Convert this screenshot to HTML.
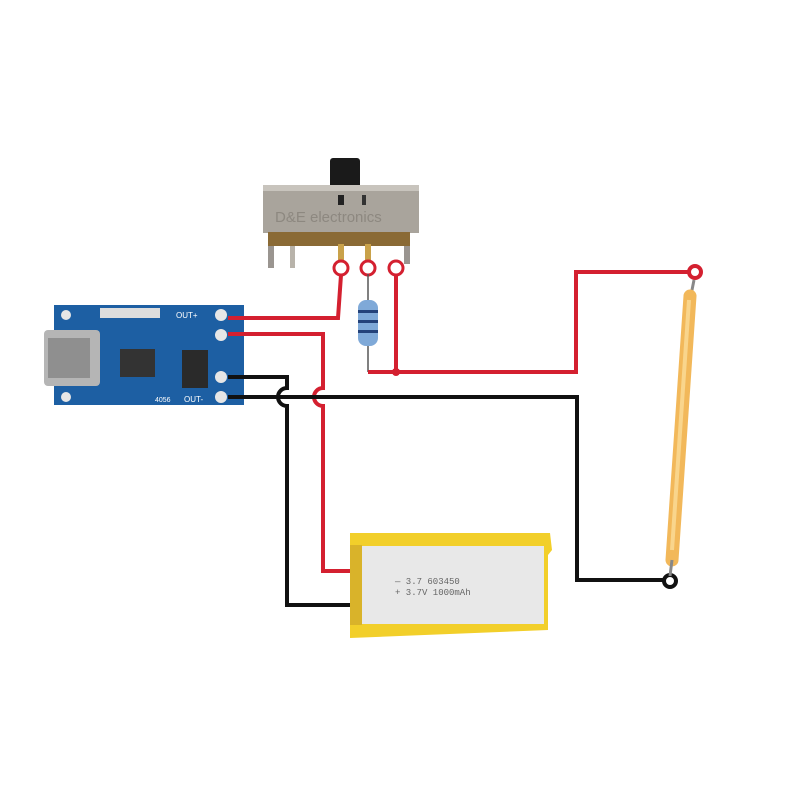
<!DOCTYPE html>
<html><head><meta charset="utf-8"><style>html,body{margin:0;padding:0;background:#fff}svg{display:block}</style></head>
<body>
<svg width="800" height="800" viewBox="0 0 800 800" xmlns="http://www.w3.org/2000/svg">
<rect width="800" height="800" fill="#fff"/>
<!-- switch -->
<rect x="330" y="158" width="30" height="30" rx="3" fill="#1a1a1a"/>
<rect x="263" y="185" width="156" height="48" fill="#a9a49c"/>
<rect x="263" y="185" width="156" height="6" fill="#c8c4bd"/>
<rect x="338" y="195" width="6" height="10" fill="#222"/>
<rect x="362" y="195" width="4" height="10" fill="#333"/>
<text x="275" y="222" font-family="Liberation Sans, sans-serif" font-size="15" fill="#8d8880">D&amp;E electronics</text>
<rect x="268" y="232" width="142" height="14" fill="#8a6a35"/>
<rect x="268" y="246" width="6" height="22" fill="#9a9590"/>
<rect x="290" y="246" width="5" height="22" fill="#b8b3aa"/>
<rect x="404" y="246" width="6" height="18" fill="#9a9590"/>
<rect x="338" y="244" width="6" height="18" fill="#c9a24a"/>
<rect x="365" y="244" width="6" height="18" fill="#c9a24a"/>
<g fill="none" stroke="#d42030" stroke-width="3">
<circle cx="341" cy="268" r="7"/><circle cx="368" cy="268" r="7"/><circle cx="396" cy="268" r="7"/>
</g>
<!-- board -->
<rect x="54" y="305" width="190" height="100" fill="#1d5fa3"/>
<rect x="44" y="330" width="56" height="56" rx="4" fill="#b5b5b5"/>
<rect x="48" y="338" width="42" height="40" fill="#8f8f8f"/>
<rect x="120" y="349" width="35" height="28" fill="#333"/>
<rect x="182" y="350" width="26" height="38" fill="#2a2a2a"/>
<rect x="100" y="308" width="60" height="10" fill="#ddd"/>
<g fill="#e6e6e6"><circle cx="221" cy="315" r="6"/><circle cx="221" cy="335" r="6"/><circle cx="221" cy="377" r="6"/><circle cx="221" cy="397" r="6"/><circle cx="66" cy="315" r="5"/><circle cx="66" cy="397" r="5"/></g>
<text x="176" y="318" font-family="Liberation Sans,sans-serif" font-size="8" fill="#fff">OUT+</text>
<text x="184" y="402" font-family="Liberation Sans,sans-serif" font-size="8" fill="#fff">OUT-</text>
<text x="155" y="402" font-family="Liberation Sans,sans-serif" font-size="7" fill="#fff">4056</text>
<!-- resistor -->
<line x1="368" y1="274" x2="368" y2="372" stroke="#555" stroke-width="1.5"/>
<rect x="358" y="300" width="20" height="46" rx="8" fill="#7fa9d8"/>
<rect x="358" y="310" width="20" height="3" fill="#24427a"/>
<rect x="358" y="320" width="20" height="3" fill="#24427a"/>
<rect x="358" y="330" width="20" height="3" fill="#24427a"/>
<!-- wires -->
<g fill="none" stroke-width="4" stroke-linejoin="miter">
<polyline points="228,318 338,318 341,275" stroke="#d42030"/>
<path d="M228,334 L323,334 L323,388 A9,9 0 0 0 323,406 L323,571 L356,571" stroke="#d42030"/>
<polyline points="368,372 576,372 576,272 688,272" stroke="#d42030"/>
<line x1="396" y1="275" x2="396" y2="372" stroke="#d42030"/>
<path d="M228,377 L287,377 L287,388 A9,9 0 0 0 287,406 L287,605 L356,605" stroke="#111"/>
<polyline points="228,397 577,397 577,580 664,580" stroke="#111"/>
</g>
<circle cx="396" cy="372" r="4" fill="#d42030"/>
<circle cx="695" cy="272" r="6" fill="#fff" stroke="#d42030" stroke-width="4"/>
<circle cx="670" cy="581" r="6" fill="#fff" stroke="#111" stroke-width="4"/>
<!-- probe -->
<line x1="694" y1="280" x2="691" y2="295" stroke="#888" stroke-width="3"/>
<line x1="690" y1="296" x2="672" y2="560" stroke="#f2b85a" stroke-width="13" stroke-linecap="round"/>
<line x1="689" y1="300" x2="672" y2="550" stroke="#f9d58c" stroke-width="4"/>
<line x1="672" y1="560" x2="670" y2="576" stroke="#888" stroke-width="3"/>
<!-- battery -->
<path d="M350,533 L550,533 L552,550 L548,555 L548,630 L350,638 Z" fill="#f2cf2a"/>
<rect x="362" y="546" width="182" height="78" fill="#e8e8e8"/>
<rect x="350" y="545" width="12" height="80" fill="#d9b32a"/>
<text x="395" y="584" font-family="Liberation Mono,monospace" font-size="9" fill="#666">— 3.7    603450</text>
<text x="395" y="595" font-family="Liberation Mono,monospace" font-size="9" fill="#666">+ 3.7V  1000mAh</text>
</svg>
</body></html>
